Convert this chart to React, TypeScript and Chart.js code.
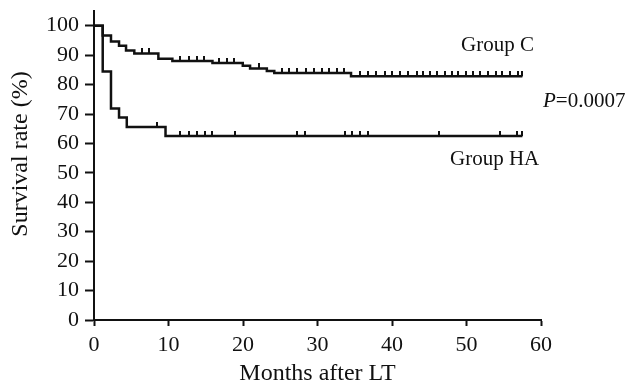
import React, { useEffect, useRef } from 'react';
import { Chart, registerables } from 'chart.js';

Chart.register(...registerables);

const FONT = '"Liberation Serif", "Times New Roman", serif';
const INK = '#111111';

// Axis ticks
const xTickValues = [0, 10, 20, 30, 40, 50, 60];
const yTickValues = [0, 10, 20, 30, 40, 50, 60, 70, 80, 90, 100];

// Group C Kaplan-Meier steps (months, survival %)
const groupCTimes = [0, 1.17, 2.28, 3.36, 4.3, 5.41, 8.64, 10.52, 15.9, 19.97, 20.95, 23.2, 24.2, 34.5, 57.5];
const groupCSurvival = [100, 96.7, 94.6, 93.2, 91.6, 90.6, 88.8, 88.0, 87.3, 86.4, 85.5, 84.6, 83.9, 82.8, 82.8];
const groupCCensored = [
  6.5, 7.4, 11.6, 12.8, 13.8, 14.8, 16.8, 17.8, 18.8, 22.1, 25.2, 26.2, 27.3, 28.5, 29.5, 30.6,
  31.6, 32.6, 33.6, 35.7, 36.8, 37.9, 39.0, 40.0, 41.1, 42.1, 43.3, 44.1, 45.1, 46.0, 47.1, 48.0,
  48.9, 49.9, 50.9, 51.8, 52.9, 53.9, 54.8, 55.9, 56.9, 57.5,
];

// Group HA Kaplan-Meier steps
const groupHATimes = [0, 1.17, 2.28, 3.36, 4.4, 9.6, 57.5];
const groupHASurvival = [100, 84.4, 71.9, 68.8, 65.6, 62.5, 62.5];
const groupHACensored = [8.5, 11.5, 12.7, 13.8, 14.9, 15.9, 18.9, 27.3, 28.3, 33.7, 34.6, 35.7, 36.8, 46.3, 54.5, 56.8, 57.5];

// Annotation texts
const labelGroupC = 'Group C';
const labelGroupHA = 'Group HA';
const pValueText = '=0.0007';
const xTitle = 'Months after LT';
const yTitle = 'Survival rate (%)';

function survivalAt(times: number[], surv: number[], t: number): number {
  let v = surv[0];
  for (let i = 0; i < times.length; i++) {
    if (times[i] <= t) v = surv[i];
  }
  return v;
}

function makeTickImage(): HTMLCanvasElement {
  const c = document.createElement('canvas');
  c.width = 2;
  c.height = 10;
  const g = c.getContext('2d')!;
  g.fillStyle = INK;
  g.fillRect(0, 0, 2, 5);
  return c;
}

const textPlugin = {
  id: 'kmText',
  afterDraw(chart: any) {
    const ctx = chart.ctx as CanvasRenderingContext2D;
    const area = chart.chartArea;
    ctx.save();
    ctx.fillStyle = INK;
    ctx.textBaseline = 'alphabetic';
    ctx.textAlign = 'left';
    ctx.font = `21px ${FONT}`;
    ctx.fillText(labelGroupC, 461, 51);
    ctx.fillText(labelGroupHA, 450, 165);
    ctx.font = `italic 21px ${FONT}`;
    ctx.fillText('P', 543, 107);
    const pw = ctx.measureText('P').width;
    ctx.font = `21px ${FONT}`;
    ctx.fillText(pValueText, 543 + pw, 107);

    ctx.font = `24px ${FONT}`;
    ctx.textAlign = 'center';
    ctx.fillText(xTitle, (area.left + area.right) / 2, 380);

    ctx.translate(27, 154);
    ctx.rotate(-Math.PI / 2);
    ctx.fillText(yTitle, 0, 0);
    ctx.restore();
  },
};

export default function App() {
  const ref = useRef<HTMLCanvasElement | null>(null);

  useEffect(() => {
    if (!ref.current) return;
    const tickImg = makeTickImage();
    const cLine = groupCTimes.map((t, i) => ({ x: t, y: groupCSurvival[i] }));
    const haLine = groupHATimes.map((t, i) => ({ x: t, y: groupHASurvival[i] }));
    const cCens = groupCCensored.map((t) => ({ x: t, y: survivalAt(groupCTimes, groupCSurvival, t) }));
    const haCens = groupHACensored.map((t) => ({ x: t, y: survivalAt(groupHATimes, groupHASurvival, t) }));

    const lineStyle = {
      showLine: true,
      stepped: 'before' as const,
      borderColor: INK,
      borderWidth: 2.5,
      pointRadius: 0,
      fill: false,
      borderCapStyle: 'butt' as const,
    };
    const censStyle = {
      showLine: false,
      pointStyle: tickImg,
      pointRadius: 3,
      pointHoverRadius: 3,
      borderColor: INK,
      backgroundColor: INK,
    };

    const chart = new Chart(ref.current, {
      type: 'scatter',
      data: {
        datasets: [
          { label: labelGroupC, data: cLine, ...lineStyle },
          { label: labelGroupHA, data: haLine, ...lineStyle },
          { label: 'C censored', data: cCens, ...censStyle },
          { label: 'HA censored', data: haCens, ...censStyle },
        ] as any,
      },
      options: {
        responsive: false,
        animation: false,
        events: [],
        layout: { padding: { top: 11, right: 86, left: 0, bottom: 0 } },
        plugins: { legend: { display: false }, tooltip: { enabled: false } },
        scales: {
          x: {
            type: 'linear',
            min: 0,
            max: 60,
            afterBuildTicks: (s: any) => {
              s.ticks = xTickValues.map((v) => ({ value: v }));
            },
            afterFit: (s: any) => {
              s.height = 70;
              s.paddingLeft = 0;
              s.paddingRight = 0;
            },
            ticks: { font: { family: FONT, size: 22 }, color: INK, padding: 6, maxRotation: 0 },
            grid: { drawOnChartArea: false, drawTicks: true, tickLength: 6, tickWidth: 2, tickColor: INK, color: INK },
            border: { display: true, color: INK, width: 2 },
          },
          y: {
            type: 'linear',
            min: 0,
            max: 105,
            afterBuildTicks: (s: any) => {
              s.ticks = yTickValues.map((v) => ({ value: v }));
            },
            afterFit: (s: any) => {
              s.width = 94;
              s.paddingTop = 0;
              s.paddingBottom = 0;
            },
            ticks: { font: { family: FONT, size: 22 }, color: INK, padding: 6 },
            grid: { drawOnChartArea: false, drawTicks: true, tickLength: 9, tickWidth: 2, tickColor: INK, color: INK },
            border: { display: true, color: INK, width: 2 },
          },
        },
      } as any,
      plugins: [textPlugin],
    });
    return () => chart.destroy();
  }, []);

  return (
    <div style={{ position: 'absolute', left: 0, top: 0, width: 627, height: 390, background: '#fff' }}>
      <canvas ref={ref} width={627} height={390} />
    </div>
  );
}
